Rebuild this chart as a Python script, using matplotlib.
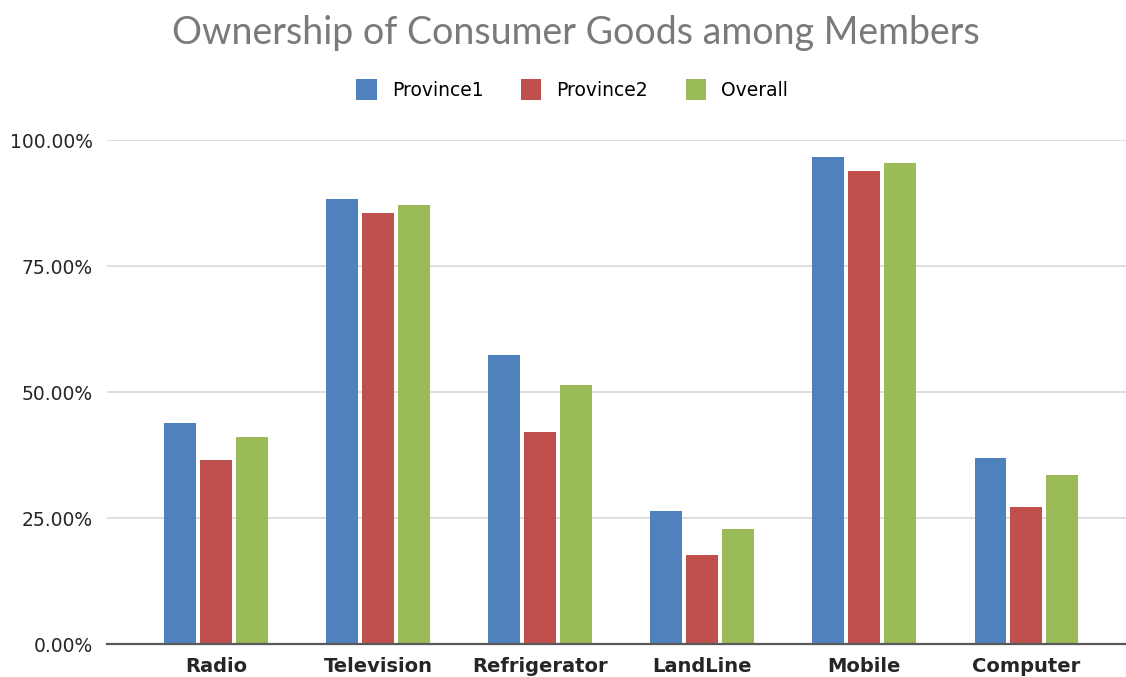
import matplotlib
matplotlib.use("Agg")
import matplotlib.pyplot as plt
import numpy as np
from matplotlib.ticker import FuncFormatter

categories = ["Radio", "Television", "Refrigerator", "LandLine", "Mobile", "Computer"]
province1 = [43.8, 88.2, 57.3, 26.4, 96.7, 37.0]
province2 = [36.6, 85.5, 42.1, 17.6, 93.8, 27.1]
overall = [41.0, 87.1, 51.4, 22.8, 95.5, 33.5]
series_names = ["Province1", "Province2", "Overall"]
colors = ["#4F81BD", "#C0504D", "#9BBB59"]
yticks = [0, 25, 50, 75, 100]

fig = plt.figure(figsize=(11.26, 6.77), dpi=100)
ax = fig.add_axes([0.095, 0.0487, 0.905, 0.7445])

x = np.arange(len(categories))
pitch = 0.222
width = 0.197
handles = []
for i, (vals, name, c) in enumerate(zip([province1, province2, overall], series_names, colors)):
    b = ax.bar(x + (i - 1) * pitch, vals, width, color=c, label=name, zorder=3)
    handles.append(b)

ax.set_xlim(-0.672, 5.614)
ax.set_ylim(0, 100)
ax.set_yticks(yticks)
ax.yaxis.set_major_formatter(FuncFormatter(lambda v, p: f"{v:.2f}%"))
ax.grid(axis="y", color="#dcdcdc", linewidth=1.3, zorder=0)
ax.set_axisbelow(True)
for s in ["top", "right", "left"]:
    ax.spines[s].set_visible(False)
ax.spines["bottom"].set_color("#595959")
ax.spines["bottom"].set_linewidth(1.6)
ax.spines["bottom"].set_zorder(4)
ax.tick_params(axis="both", length=0)
ax.tick_params(axis="y", pad=10, labelsize=13.5, labelcolor="#262626")
ax.set_xticks(x)
ax.set_xticklabels(categories, fontsize=14, fontweight="bold", color="#262626")
ax.tick_params(axis="x", pad=9)

fig.text(0.511, 0.951, "Ownership of Consumer Goods among Members", ha="center", va="center",
         fontsize=27, color="#7a7a7a", family=["Lato", "DejaVu Sans"])

leg = fig.legend(handles=handles, labels=series_names, loc="center", bbox_to_anchor=(0.508, 0.868),
                 ncol=3, frameon=False, handlelength=1.1, handleheight=1.3,
                 columnspacing=2.0, handletextpad=0.8,
                 prop={"family": ["DejaVu Sans"], "size": 13.5})

fig.savefig("out.png", dpi=100, facecolor="white")
